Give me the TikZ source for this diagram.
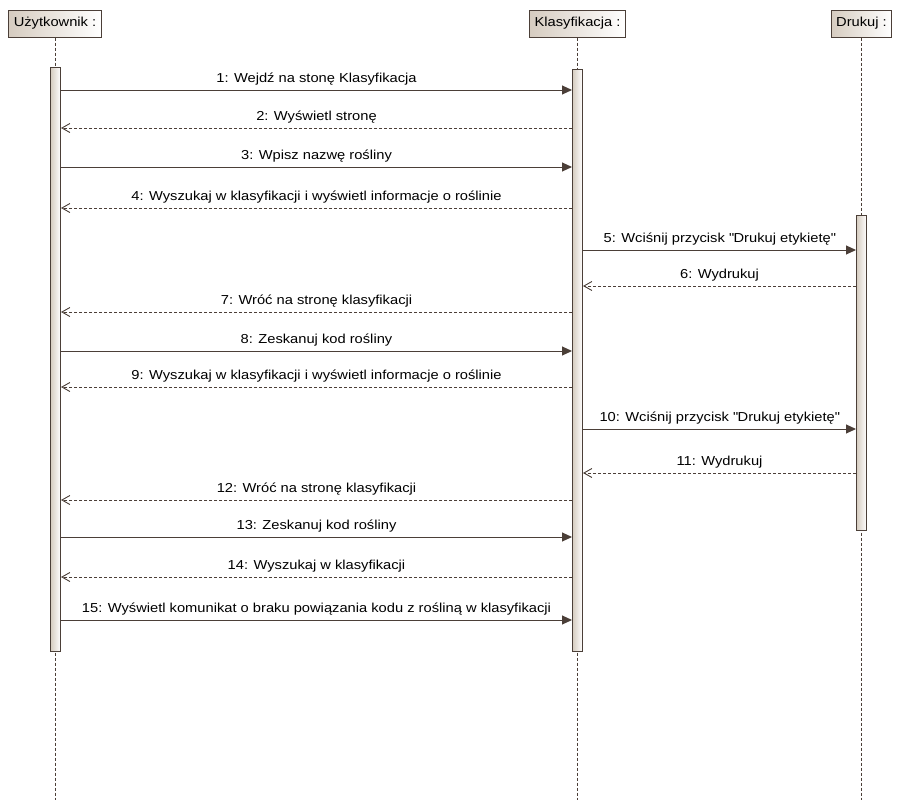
\documentclass[tikz,border=0pt]{standalone}
\usepackage{fontspec}
\setmainfont[FakeStretch=1.13]{Liberation Sans}
\usetikzlibrary{arrows.meta, positioning}

\definecolor{umlline}{HTML}{4B3F38}
\definecolor{umltan}{HTML}{D6CCC0}

\begin{document}
\begin{tikzpicture}[
    x=1pt, y=-1pt,
    font=\fontsize{13}{15}\selectfont,
    head/.style={
        rectangle, draw=umlline, line width=1pt,
        minimum height=27pt, inner xsep=5pt,
        left color=umltan, right color=white
    },
    bar/.style={
        rectangle, draw=umlline, line width=1pt,
        minimum width=10pt, inner sep=0pt,
        left color=umltan, right color=white
    },
    life/.style={draw=umlline, line width=0.9pt, dash pattern=on 3pt off 2pt},
    call/.style={-{Triangle[length=10pt, width=9pt]}, draw=umlline, fill=umlline, line width=1pt},
    ret/.style={-{Straight Barb[length=8pt, width=9pt]}, draw=umlline, line width=0.9pt, dash pattern=on 3pt off 2pt},
    msg/.style={above, inner xsep=0pt, inner ysep=4pt, text=black, fill=none},
]

% background and size
\fill[white] (0,0) rectangle (903,811);
\useasboundingbox (0,0) rectangle (903,811);

% Row 1: participants
\node[head] (user) at (55,23.5) {Użytkownik :};
\node[head] (klas) at (577.5,23.5) {Klasyfikacja :};
\node[head] (druk) at (861.5,23.5) {Drukuj :};

% lifelines
\draw[life] (user.south) -- (user.south |- 0,800);
\draw[life] (klas.south) -- (klas.south |- 0,800);
\draw[life] (druk.south) -- (druk.south |- 0,800);

% activation bars
\node[bar, minimum height=584pt] (userbar) at (55.5,359) {};
\node[bar, minimum height=582pt] (klasbar) at (577.5,360) {};
\node[bar, minimum height=315pt] (drukbar) at (861.5,372.5) {};

% Messages
\draw[call] (userbar.east |- 0,90) -- node[msg] {1: Wejdź na stonę Klasyfikacja} (klasbar.west |- 0,90);
\draw[ret] (klasbar.west |- 0,128) -- node[msg] {2: Wyświetl stronę} (userbar.east |- 0,128);
\draw[call] (userbar.east |- 0,167) -- node[msg] {3: Wpisz nazwę rośliny} (klasbar.west |- 0,167);
\draw[ret] (klasbar.west |- 0,208) -- node[msg] {4: Wyszukaj w klasyfikacji i wyświetl informacje o roślinie} (userbar.east |- 0,208);
\draw[call] (klasbar.east |- 0,250) -- node[msg] {5: Wciśnij przycisk \textquotedbl Drukuj etykietę\textquotedbl} (drukbar.west |- 0,250);
\draw[ret] (drukbar.west |- 0,286) -- node[msg] {6: Wydrukuj} (klasbar.east |- 0,286);
\draw[ret] (klasbar.west |- 0,312) -- node[msg] {7: Wróć na stronę klasyfikacji} (userbar.east |- 0,312);
\draw[call] (userbar.east |- 0,351) -- node[msg] {8: Zeskanuj kod rośliny} (klasbar.west |- 0,351);
\draw[ret] (klasbar.west |- 0,387) -- node[msg] {9: Wyszukaj w klasyfikacji i wyświetl informacje o roślinie} (userbar.east |- 0,387);
\draw[call] (klasbar.east |- 0,429) -- node[msg] {10: Wciśnij przycisk \textquotedbl Drukuj etykietę\textquotedbl} (drukbar.west |- 0,429);
\draw[ret] (drukbar.west |- 0,473) -- node[msg] {11: Wydrukuj} (klasbar.east |- 0,473);
\draw[ret] (klasbar.west |- 0,500) -- node[msg] {12: Wróć na stronę klasyfikacji} (userbar.east |- 0,500);
\draw[call] (userbar.east |- 0,537) -- node[msg] {13: Zeskanuj kod rośliny} (klasbar.west |- 0,537);
\draw[ret] (klasbar.west |- 0,577) -- node[msg] {14: Wyszukaj w klasyfikacji} (userbar.east |- 0,577);
\draw[call] (userbar.east |- 0,620) -- node[msg] {15: Wyświetl komunikat o braku powiązania kodu z rośliną w klasyfikacji} (klasbar.west |- 0,620);

\end{tikzpicture}
\end{document}
